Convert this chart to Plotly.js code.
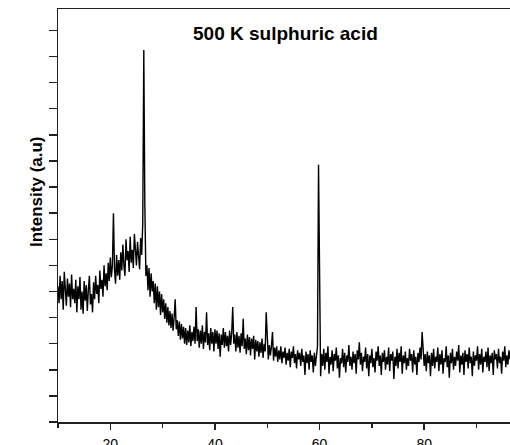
<!DOCTYPE html>
<html>
<head>
<meta charset="utf-8">
<script src="https://cdn.plot.ly/plotly-3.0.1.min.js"></script>
<style>html,body{margin:0;padding:0;background:#fff;}#chart{width:510px;height:445px;}</style>
</head>
<body>
<div id="chart"></div>
<script>
// 2-theta sampling grid (degrees)
const twoThetaStart = 10;
const twoThetaStep = 0.2;

// Intensity (counts), 10.0 .. 96.4 deg
const intensityLowAngle = [
  520,455,560,470,540,430,575,490,445,550,480,530,440,565,470,510,
  455,545,420,520,470,555,430,500,415,540,465,525,425,505,560,450,490,420,535,
  470,560,490,525,455,580,510,545,480,600,520,570,505,
  610,540,630,555,600,800,585,530,640,560,620,545,650,
  580,680,600,560,700,620,655,575,710,610,660,590,720,630,600,690,645,585,705,640,760,1425,830,560
];
const intensityMidAngle = [
  600,505,590,480,570,500,540,455,530,430,520,440,500,410,490,420,470,395,
  455,380,440,370,425,360,415,350,400,470,355,390,330,385,315,375,320,365,
  300,360,295,350,305,370,290,345,310,365,300,440,310,355,285,350,300,370,280,345,305,420,295,340,275,360,300,345,270,355,
  300,350,280,340,250,335,295,360,285,345,290,330,270,350,295,340,440,300,335,270,
  345,285,330,265,340,290,395,280,320,260,335,275,325,255,320,280,330,240,315,270,
  310,250,305,265,320,245,300,270,420,280,240,295,255,290,345,235,285,250,290,230,
  275,240,290,225,270,245,285,220,265,235,280,210,270,245,290,225,260,205,275,240,
  265,215,280,230,255,180,270,225,260,200,275,230,255,190,265,215,250,290,985,630,
  175,260
];
const intensityHighAngle = [
  215,280,200,265,230,290,185,250,220,275,
  195,260,235,285,205,255,170,245,225,280,
  210,265,190,255,230,295,215,250,200,270,
  225,260,185,275,240,305,220,265,195,250,
  230,285,205,260,175,255,225,280,210,245,
  190,270,235,290,215,255,180,265,230,275,
  200,250,220,285,195,260,235,270,165,250,
  215,280,205,265,230,290,185,255,225,270,
  200,245,215,280,235,260,190,275,220,250,
  180,265,230,285,240,345,290,215,260,195,
  270,225,255,175,265,215,280,205,250,230,
  285,195,260,220,275,185,245,230,290,210,
  255,170,265,225,280,200,250,215,270,235,
  295,190,255,220,265,180,275,230,260,205,
  285,225,250,175,270,215,255,235,290,200,
  260,220,280,190,250,230,270,210,285,195,
  255,225,265,180,275,240,260,205,280,225,
  250,185,270,235,290,210,255,220,275,240
];

const xTickVals = [20, 40, 60, 80];
const xTickText = ['20', '40', '60', '80'];
const xMinorTickVals = [10, 30, 50, 70, 90];
const yTickVals = [0,100,200,300,400,500,600,700,800,900,1000,1100,1200,1300,1400,1500];
const chartTitle = '500 K sulphuric acid';
const yTitle = 'Intensity (a.u)';

const intensity = intensityLowAngle.concat(intensityMidAngle, intensityHighAngle);

const trace = {
  type: 'scatter',
  mode: 'lines',
  x0: twoThetaStart,
  dx: twoThetaStep,
  y: intensity,
  line: {color: '#000', width: 1.4},
  hoverinfo: 'skip'
};

const fontFam = '"Liberation Sans", Arial, sans-serif';

const layout = {
  width: 510,
  height: 445,
  margin: {l: 58, r: 0, t: 9, b: 23, pad: 0},
  paper_bgcolor: '#fff',
  plot_bgcolor: '#fff',
  showlegend: false,
  font: {family: fontFam, color: '#000'},
  xaxis: {
    range: [10, 96.4],
    showgrid: false,
    zeroline: false,
    showline: true,
    linecolor: '#222',
    linewidth: 1.5,
    mirror: true,
    ticks: 'outside',
    ticklen: 6,
    tickwidth: 1.5,
    tickcolor: '#222',
    tickmode: 'array',
    tickvals: xTickVals,
    ticktext: xTickText,
    ticklabelstandoff: 3,
    tickfont: {size: 14, family: fontFam, color: '#000'},
    minor: {tickmode: 'array', tickvals: xMinorTickVals, ticks: 'outside', ticklen: 4, tickwidth: 1.5, tickcolor: '#222', showgrid: false}
  },
  yaxis: {
    range: [0, 1582],
    showgrid: false,
    zeroline: false,
    showline: true,
    linecolor: '#222',
    linewidth: 1.5,
    ticks: 'outside',
    ticklen: 8,
    tickwidth: 1.5,
    tickcolor: '#222',
    tickmode: 'array',
    tickvals: yTickVals,
    showticklabels: false
  },
  annotations: [
    {
      text: '<b>' + chartTitle + '</b>',
      xref: 'paper', yref: 'paper',
      x: 0.503, y: 0.94,
      xanchor: 'center', yanchor: 'middle',
      showarrow: false,
      font: {size: 19, family: fontFam, color: '#000'}
    },
    {
      text: '<b>' + yTitle + '</b>',
      xref: 'paper', yref: 'paper',
      x: -0.049, y: 0.559,
      xanchor: 'center', yanchor: 'middle',
      textangle: -90,
      showarrow: false,
      font: {size: 17, family: fontFam, color: '#000'}
    }
  ]
};

Plotly.newPlot('chart', [trace], layout, {staticPlot: true, displayModeBar: false});
</script>
</body>
</html>
